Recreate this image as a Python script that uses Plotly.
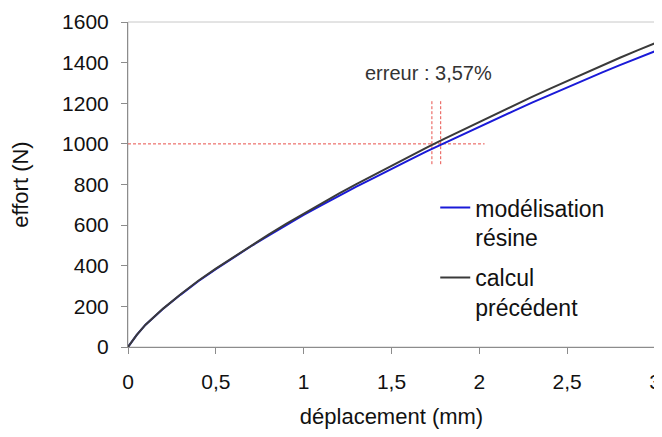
#
# effort / deplacement : modelisation resine vs calcul precedent
#
import plotly.graph_objects as go

# deplacement (mm)
deplacement = [0, 0.05, 0.1, 0.2, 0.3, 0.4, 0.5, 0.6, 0.7, 0.8, 0.9, 1.0,
               1.1, 1.2, 1.3, 1.4, 1.5, 1.6, 1.7, 1.8, 1.9, 2.0,
               2.1, 2.2, 2.3, 2.4, 2.5, 2.6, 2.7, 2.8, 2.9, 3.0]

# effort (N)
effort_resine = [0, 60, 110, 188, 258, 324, 383, 440, 496, 548, 600, 650,
                 697, 744, 789, 833, 878, 920, 963, 1004, 1045, 1085,
                 1125, 1164, 1203, 1241, 1278, 1315, 1352, 1388, 1423, 1456]
effort_precedent = [0, 60, 110, 189, 260, 326, 386, 443, 500, 553, 606, 657,
                    707, 755, 802, 848, 894, 938, 982, 1025, 1067, 1109,
                    1150, 1191, 1231, 1271, 1310, 1349, 1387, 1424, 1460, 1496]

# lecture a 1000 N
effort_ref = 1000
x_ref_line = [0, 2.03]
x_precedent_1000 = 1.73
x_resine_1000 = 1.78
y_marks = [900, 1215]
erreur_txt = "erreur : 3,57%"

font = "Liberation Sans, Arial, sans-serif"

fig = go.Figure()

# pointilles rouges
fig.add_trace(go.Scatter(x=x_ref_line, y=[effort_ref, effort_ref], mode='lines',
                         line=dict(color='#e8504a', width=1, dash='3px,2px'),
                         showlegend=False, hoverinfo='skip'))
for xv in [x_precedent_1000, x_resine_1000]:
    fig.add_trace(go.Scatter(x=[xv, xv], y=y_marks, mode='lines',
                             line=dict(color='#e8504a', width=1, dash='3px,2px'),
                             showlegend=False, hoverinfo='skip'))

fig.add_trace(go.Scatter(x=deplacement, y=effort_resine, mode='lines',
                         name='modélisation<br>résine', legendgroup='a',
                         line=dict(color='#1a1ad8', width=2)))
fig.add_trace(go.Scatter(x=deplacement, y=effort_precedent, mode='lines',
                         name='calcul<br>précédent', legendgroup='b',
                         line=dict(color='#3a3a3a', width=2)))

# la page html a une marge de 8 px : figure un peu plus petite
fig.update_layout(
    width=654, height=429,
    margin=dict(l=120, r=7, t=14, b=90),
    paper_bgcolor='white', plot_bgcolor='white',
    font=dict(family=font, size=21, color='#111111'),
    showlegend=True,
    legend=dict(x=0.583, y=0.495, xanchor='left', yanchor='top',
                font=dict(size=23, color='#111111'), valign='top',
                bgcolor='rgba(0,0,0,0)', tracegroupgap=7, traceorder='grouped'),
    annotations=[dict(x=1.713, y=1350, xref='x', yref='y', text=erreur_txt,
                      showarrow=False, font=dict(size=20, color='#333333'))],
    shapes=[dict(type='rect', xref='paper', yref='paper', x0=0, y0=0, x1=1, y1=1,
                 line=dict(color='#c8c8c8', width=1), layer='below')],
)

fig.update_xaxes(range=[0, 3], tickvals=[0, 0.5, 1, 1.5, 2, 2.5, 3],
                 ticktext=['0', '0,5', '1', '1,5', '2', '2,5', '3'],
                 showgrid=False, zeroline=False, showline=True, linecolor='#8c8c8c',
                 linewidth=1, ticks='outside', ticklen=6, tickcolor='#8c8c8c',
                 ticklabelstandoff=10, automargin=False,
                 title=dict(text='déplacement (mm)', font=dict(size=22), standoff=16))
fig.update_yaxes(range=[0, 1600], dtick=200,
                 showgrid=False, zeroline=False, showline=True, linecolor='#8c8c8c',
                 linewidth=1, ticks='outside', ticklen=6, tickcolor='#8c8c8c',
                 ticklabelstandoff=8, automargin=False,
                 title=dict(text='effort (N)', font=dict(size=22), standoff=27))

fig.write_html("out.html")
